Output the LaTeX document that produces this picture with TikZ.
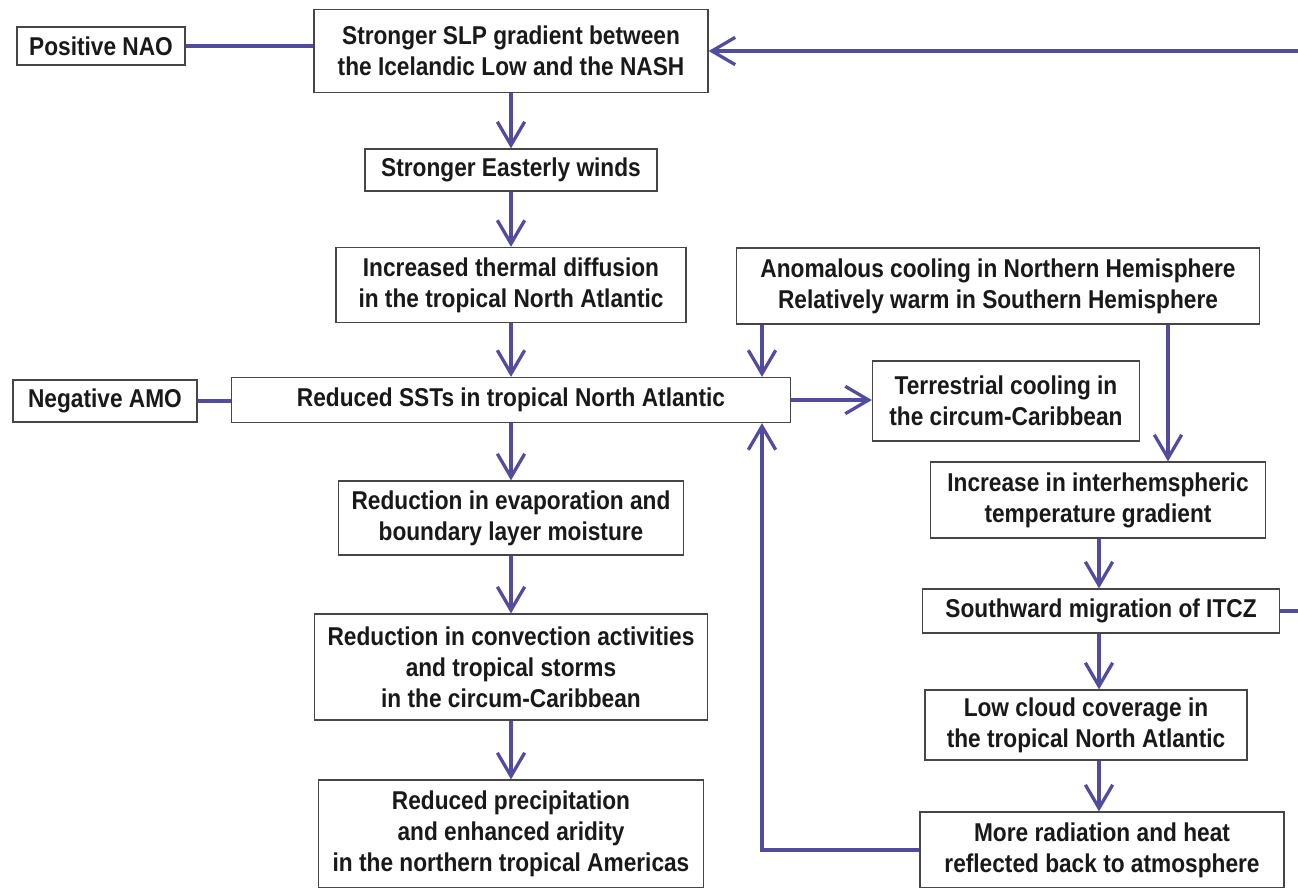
\documentclass[tikz,border=0pt]{standalone}
\usepackage{fontspec}
\setmainfont{Liberation Sans}[FakeStretch=0.88]
\usetikzlibrary{arrows.meta}
\definecolor{linkblue}{RGB}{82,76,158}
\definecolor{boxgray}{RGB}{70,70,70}
\definecolor{inkblack}{RGB}{25,25,25}
\tikzset{
  box/.style={draw=boxgray,line width=1.1pt,fill=white,align=center,inner sep=0pt,
    text=inkblack,font=\fontsize{22}{26.4}\selectfont\bfseries},
  sz/.style 2 args={minimum width=#1*0.03cm,minimum height=#2*0.03cm},
  flow/.style={draw=linkblue,line width=2.8pt},
  tip/.style={flow,-{Straight Barb[length=0.7cm,width=0.82cm]}}
}
\begin{document}
\begin{tikzpicture}[x=0.03cm,y=-0.03cm]
  \useasboundingbox (0,0) rectangle (1298,887);
  \clip (0,0) rectangle (1298,887);
  % left column
  \node[box,sz={168}{38}] (nao) at (101,46) {Positive NAO};
  \node[box,sz={394}{83}] (slp) at (511,51) {Stronger SLP gradient between\\the Icelandic Low and the NASH};
  \node[box,sz={292}{42}] (east) at (511,170) {Stronger Easterly winds};
  \node[box,sz={350}{75}] (diff) at (511,285) {Increased thermal diffusion\\in the tropical North Atlantic};
  \node[box,sz={184}{42}] (amo) at (105,401) {Negative AMO};
  \node[box,sz={559}{45}] (sst) at (511,400) {Reduced SSTs in tropical North Atlantic};
  \node[box,sz={345}{74}] (evap) at (511,518) {Reduction in evaporation and\\boundary layer moisture};
  \node[box,sz={393}{106}] (conv) at (511,667) {Reduction in convection activities\\and tropical storms\\in the circum-Caribbean};
  \node[box,sz={385}{108}] (prec) at (511,834) {Reduced precipitation\\and enhanced aridity\\in the northern tropical Americas};
  % right column
  \node[box,sz={523}{76}] (anom) at (998,286) {Anomalous cooling in Northern Hemisphere\\Relatively warm in Southern Hemisphere};
  \node[box,sz={267}{80}] (terr) at (1006,401) {Terrestrial cooling in\\the circum-Caribbean};
  \node[box,sz={335}{76}] (inter) at (1098,500) {Increase in interhemspheric\\temperature gradient};
  \node[box,sz={357}{44}] (itcz) at (1101,611) {Southward migration of ITCZ};
  \node[box,sz={322}{70}] (cloud) at (1086,725) {Low cloud coverage in\\the tropical North Atlantic};
  \node[box,sz={364}{76}] (rad) at (1102,850) {More radiation and heat\\reflected back to atmosphere};
  % guide coordinates
  \coordinate (fb) at (762,0);
  \coordinate (drop) at (1168,0);
  \coordinate (rc) at (1099,0);
  \coordinate (rim) at (1312,0);
  % links
  \draw[flow] (nao.east) -- (nao.east -| slp.west);
  \draw[flow] (amo.east) -- (amo.east -| sst.west);
  \draw[tip] (slp) -- (east);
  \draw[tip] (east) -- (diff);
  \draw[tip] (diff) -- (sst);
  \draw[tip] (sst) -- (evap);
  \draw[tip] (evap) -- (conv);
  \draw[tip] (conv) -- (prec);
  \draw[tip] (sst.east) -- (sst.east -| terr.west);
  \draw[tip] (fb |- anom.south) -- (fb |- sst.north);
  \draw[tip] (drop |- anom.south) -- (drop |- inter.north);
  \draw[tip] (rc |- inter.south) -- (rc |- itcz.north);
  \draw[tip] (rc |- itcz.south) -- (rc |- cloud.north);
  \draw[tip] (rc |- cloud.south) -- (rc |- rad.north);
  \draw[tip] (rad.west) -| (fb |- sst.south);
  \draw[tip] (itcz.east) -| (rim |- slp.east) -- (slp.east);
\end{tikzpicture}
\end{document}
